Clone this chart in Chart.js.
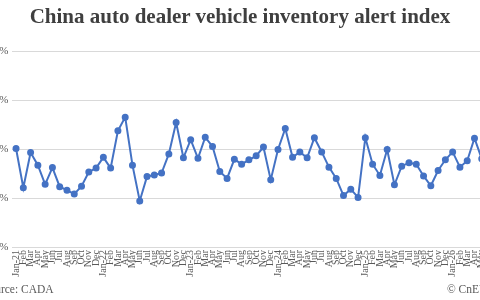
<!DOCTYPE html>
<html>
<head>
<meta charset="utf-8">
<script src="https://cdn.jsdelivr.net/npm/chart.js@4"></script>
<style>
    html, body { margin: 0; padding: 0; background: #fff; }
    #wrap { position: relative; width: 480px; height: 300px; overflow: hidden; }
    #chart-box { position: absolute; left: -40px; top: 0; width: 560px; height: 300px; }
    #title {
        position: absolute; left: 0; top: 4px; width: 480px; text-align: center;
        font: bold 21px "Liberation Serif", "Times New Roman", serif; color: #3f3f3f;
    }
    .note {
        position: absolute; top: 283px; font: 11.5px "Liberation Serif", "Times New Roman", serif;
        color: #595959; white-space: nowrap;
    }
</style>
</head>
<body>
<div id="wrap">
    <div id="chart-box"><canvas id="chart"></canvas></div>
    <div id="title">China auto dealer vehicle inventory alert index</div>
    <div class="note" style="left:-17px">Source: CADA</div>
    <div class="note" style="left:447px">© CnEVPost</div>
</div>
<script>
const monthNames = ['Jan', 'Feb', 'Mar', 'Apr', 'May', 'Jun', 'Jul', 'Aug', 'Sep', 'Oct', 'Nov', 'Dec'];
const years = ['21', '22', '23', '24', '25', '26'];

// inventory alert index, %, Jan-21 .. May-26
const values2021 = [60.1, 52.1, 59.3, 56.7, 52.8, 56.2, 52.3, 51.6, 50.8, 52.4, 55.3, 56.1];
const values2022 = [58.3, 56.1, 63.7, 66.5, 56.7, 49.4, 54.4, 54.7, 55.1, 59.0, 65.4, 58.2];
const values2023 = [61.9, 58.1, 62.4, 60.5, 55.4, 54.0, 57.9, 56.9, 57.8, 58.6, 60.4, 53.7];
const values2024 = [59.9, 64.2, 58.3, 59.4, 58.2, 62.3, 59.4, 56.3, 54.0, 50.5, 51.8, 50.1];
const values2025 = [62.3, 56.9, 54.6, 59.9, 52.7, 56.5, 57.2, 56.9, 54.5, 52.5, 55.6, 57.8];
const values2026 = [59.4, 56.3, 57.6, 62.2, 58.0];

const values = [...values2021, ...values2022, ...values2023, ...values2024, ...values2025, ...values2026];

const labels = [];
years.forEach(yr => {
    monthNames.forEach((m, i) => {
        if (labels.length < values.length) labels.push(i === 0 ? `${m}-${yr}` : m);
    });
});

const serif = '"Liberation Serif", "Times New Roman", serif';

new Chart(document.getElementById('chart'), {
    type: 'line',
    data: {
        labels: labels,
        datasets: [{
            data: values,
            borderColor: '#4472c4',
            backgroundColor: '#4472c4',
            borderWidth: 2,
            pointRadius: 2.5,
            pointHoverRadius: 2.5,
            fill: false,
            tension: 0
        }]
    },
    options: {
        responsive: true,
        maintainAspectRatio: false,
        animation: false,
        layout: { padding: { top: 51, right: 34.6, bottom: 0, left: 0 } },
        plugins: {
            legend: { display: false },
            tooltip: { enabled: false }
        },
        scales: {
            x: {
                offset: true,
                grid: { display: false, drawTicks: false },
                border: { display: false },
                ticks: {
                    autoSkip: false,
                    minRotation: 90,
                    maxRotation: 90,
                    padding: 3,
                    color: '#595959',
                    font: { family: serif, size: 10 }
                },
                afterFit: scale => { scale.height = 53; }
            },
            y: {
                min: 40,
                max: 80,
                grid: { color: '#d9d9d9', lineWidth: 1, drawTicks: false },
                border: { display: false },
                ticks: {
                    stepSize: 10,
                    padding: 4,
                    color: '#595959',
                    font: { family: serif, size: 11 },
                    callback: v => v + '%'
                },
                afterFit: scale => { scale.width = 52.4; }
            }
        }
    }
});
</script>
</body>
</html>
